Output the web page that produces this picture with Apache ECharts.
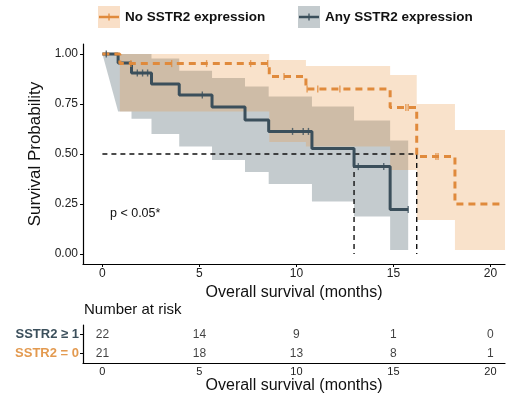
<!DOCTYPE html>
<html>
<head>
<meta charset="utf-8">
<script src="https://cdn.jsdelivr.net/npm/echarts@6/dist/echarts.min.js"></script>
<style>html,body{margin:0;padding:0;background:#fff}#c{width:508px;height:398px}</style>
</head>
<body>
<div id="c"></div>
<script>
// ---------- data ----------
const xTicks = [0, 5, 10, 15, 20];
const yTicks = [0, 0.25, 0.5, 0.75, 1.0];

// Any SSTR2 expression (SSTR2 >= 1)
const anyTimes = [0, 0.81, 1.5, 2.53, 3.96, 5.65, 7.35, 8.57, 10.8, 12.97, 14.83, 15.76];
const anySurv  = [1, 0.955, 0.905, 0.85, 0.795, 0.735, 0.67, 0.613, 0.527, 0.437, 0.222, 0.222];
const anyCensT = [0.2, 1.8, 2.07, 2.33, 5.15, 9.8, 10.35, 10.62, 13.19, 14.5, 15.76];
const anyCensS = [1, 0.905, 0.905, 0.905, 0.795, 0.613, 0.613, 0.613, 0.437, 0.437, 0.222];
const anyBandT = [0, 0.81, 1.5, 2.53, 3.96, 5.65, 7.35, 8.57, 10.8, 12.97, 14.83, 15.76];
const anyBandU = [1, 1, 1, 0.977, 0.916, 0.88, 0.838, 0.788, 0.738, 0.667, 0.567];
const anyBandL = [1, 0.713, 0.676, 0.60, 0.538, 0.47, 0.41, 0.35, 0.263, 0.188, 0.02];

// No SSTR2 expression (SSTR2 = 0)
const noTimes = [0, 0.9, 8.6, 10.49, 14.83, 16.2, 18.17, 20.7];
const noSurv  = [1, 0.952, 0.888, 0.825, 0.733, 0.488, 0.25, 0.25];
const noCensT = [1.47, 3.57, 5.37, 7.64, 8.52, 9.36, 10.55, 11.1, 12.24, 15.64, 15.76, 17.19, 17.3];
const noCensS = [0.952, 0.952, 0.952, 0.952, 0.952, 0.888, 0.825, 0.825, 0.825, 0.733, 0.733, 0.488, 0.488];
const noBandT = [0.9, 8.6, 10.49, 14.83, 16.2, 18.17, 20.75];
const noBandU = [1, 0.97, 0.94, 0.895, 0.75, 0.62];
const noBandL = [0.713, 0.56, 0.538, 0.42, 0.17, 0.02];

// median survival
const medianTimes = [12.97, 16.2];

// number at risk
const riskRows = ['SSTR2 ≥ 1', 'SSTR2 = 0'];
const riskAny = [22, 14, 9, 1, 0];
const riskNo  = [21, 18, 13, 8, 1];

// ---------- styling ----------
const FONT = 'Liberation Sans, Arial, Helvetica, sans-serif';
const C_ANY = '#3b4f5b';
const C_NO = '#e08a3c';
const BAND_ANY = 'rgba(60,82,94,0.30)';
const BAND_NO = 'rgba(234,150,70,0.28)';
const XMIN = -1, XMAX = 20.75;

// stepped ribbon; with ramp the lower edge of the first interval is joined linearly
function bandRenderer(times, upper, lower, ramp) {
  return function (params, api) {
    const pts = [];
    for (let i = 0; i < upper.length; i++) {
      pts.push(api.coord([times[i], upper[i]]));
      pts.push(api.coord([times[i + 1], upper[i]]));
    }
    for (let i = lower.length - 1; i >= 0; i--) {
      if (ramp && i === 0) {
        pts.push(api.coord([times[0], lower[0]]));
      } else {
        pts.push(api.coord([times[i + 1], lower[i]]));
        pts.push(api.coord([times[i], lower[i]]));
      }
    }
    return { type: 'polygon', shape: { points: pts }, style: { fill: api.visual('color') } };
  };
}

const zip = (a, b) => a.map((v, i) => [v, b[i]]);

const riskData = [];
xTicks.forEach((t, i) => {
  riskData.push([t, 0, riskAny[i]]);
  riskData.push([t, 1, riskNo[i]]);
});

const axisLineStyle = { color: '#000', width: 1.2 };
const chart = echarts.init(document.getElementById('c'), null, { renderer: 'canvas' });
chart.setOption({
  animation: false,
  backgroundColor: '#fff',
  textStyle: { fontFamily: FONT },
  title: {
    text: 'Number at risk', left: 84, top: 302, padding: 0,
    textStyle: { fontSize: 15, fontWeight: 'normal', color: '#111', fontFamily: FONT }
  },
  legend: [
    {
      left: 98, top: 6, padding: 0, itemWidth: 22, itemHeight: 22, itemGap: 5, selectedMode: false,
      data: [{ name: 'No SSTR2 expression', icon: 'rect', itemStyle: { color: 'rgba(234,150,70,0.30)' } }],
      textStyle: { fontSize: 13.5, fontWeight: 'bold', color: '#111', fontFamily: FONT }
    },
    {
      left: 298, top: 6, padding: 0, itemWidth: 22, itemHeight: 22, itemGap: 5, selectedMode: false,
      data: [{ name: 'Any SSTR2 expression', icon: 'rect', itemStyle: { color: 'rgba(60,82,94,0.30)' } }],
      textStyle: { fontSize: 13.5, fontWeight: 'bold', color: '#111', fontFamily: FONT }
    }
  ],
  graphic: [
    { type: 'line', shape: { x1: 99, y1: 17, x2: 119, y2: 17 }, style: { stroke: C_NO, lineWidth: 2.5 }, silent: true, z: 100 },
    { type: 'line', shape: { x1: 109, y1: 13.5, x2: 109, y2: 20.5 }, style: { stroke: C_NO, lineWidth: 1.3 }, silent: true, z: 100 },
    { type: 'line', shape: { x1: 299, y1: 17, x2: 319, y2: 17 }, style: { stroke: C_ANY, lineWidth: 2.5 }, silent: true, z: 100 },
    { type: 'line', shape: { x1: 309, y1: 13.5, x2: 309, y2: 20.5 }, style: { stroke: C_ANY, lineWidth: 1.3 }, silent: true, z: 100 },
    { type: 'text', left: 110, top: 207, style: { text: 'p < 0.05*', fontSize: 12.5, fill: '#111', fontFamily: FONT }, silent: true }
  ],
  grid: [
    { left: 83, right: 3, top: 44, height: 220, containLabel: false },
    { left: 83, right: 3, top: 325, height: 38, containLabel: false }
  ],
  xAxis: [
    {
      gridIndex: 0, type: 'value', min: XMIN, max: XMAX,
      axisLine: { show: true, onZero: false, lineStyle: axisLineStyle },
      axisTick: { show: true, customValues: xTicks, length: 3, lineStyle: { color: '#000' } },
      axisLabel: { customValues: xTicks, fontSize: 12, color: '#222', margin: 4, fontFamily: FONT },
      splitLine: { show: false },
      name: 'Overall survival (months)', nameLocation: 'middle', nameGap: 14,
      nameTextStyle: { fontSize: 16, color: '#111', fontFamily: FONT }
    },
    {
      gridIndex: 1, type: 'value', min: XMIN, max: XMAX,
      axisLine: { show: true, onZero: false, lineStyle: axisLineStyle },
      axisTick: { show: false },
      axisLabel: { customValues: xTicks, fontSize: 11, color: '#222', margin: 3, fontFamily: FONT },
      splitLine: { show: false },
      name: 'Overall survival (months)', nameLocation: 'middle', nameGap: 15,
      nameTextStyle: { fontSize: 16, color: '#111', fontFamily: FONT }
    }
  ],
  yAxis: [
    {
      gridIndex: 0, type: 'value', min: -0.05, max: 1.05,
      axisLine: { show: true, onZero: false, lineStyle: axisLineStyle },
      axisTick: { show: true, customValues: yTicks, length: 3, lineStyle: { color: '#000' } },
      axisLabel: { customValues: yTicks, formatter: v => v.toFixed(2), fontSize: 12, color: '#222', margin: 5, fontFamily: FONT },
      splitLine: { show: false },
      name: 'Survival Probability', nameLocation: 'middle', nameGap: 38,
      nameTextStyle: { fontSize: 17, color: '#111', fontFamily: FONT }
    },
    {
      gridIndex: 1, type: 'category', data: riskRows, inverse: true,
      axisLine: { show: true, onZero: false, lineStyle: axisLineStyle },
      axisTick: { show: true, alignWithLabel: true, length: 3, lineStyle: { color: '#000' } },
      axisLabel: {
        margin: 4, fontFamily: FONT,
        formatter: (v, i) => i === 0 ? '{a|' + v + '}' : '{b|' + v + '}',
        rich: {
          a: { color: C_ANY, fontWeight: 'bold', fontSize: 13, fontFamily: FONT },
          b: { color: '#e39a50', fontWeight: 'bold', fontSize: 13, fontFamily: FONT }
        }
      },
      splitLine: { show: false }
    }
  ],
  series: [
    {
      type: 'custom', name: 'anyBand', xAxisIndex: 0, yAxisIndex: 0, silent: true, z: 1,
      itemStyle: { color: BAND_ANY }, data: [[anyBandT[0], anyBandU[0]]],
      renderItem: bandRenderer(anyBandT, anyBandU, anyBandL, true)
    },
    {
      type: 'custom', name: 'noBand', xAxisIndex: 0, yAxisIndex: 0, silent: true, z: 1,
      itemStyle: { color: BAND_NO }, data: [[noBandT[0], noBandU[0]]],
      renderItem: bandRenderer(noBandT, noBandU, noBandL, false)
    },
    {
      type: 'line', name: 'medianH', xAxisIndex: 0, yAxisIndex: 0, silent: true, z: 3,
      showSymbol: false, symbol: 'none',
      data: [[0, 0.5], [Math.max(...medianTimes), 0.5]],
      lineStyle: { color: '#111', width: 1.4, type: [5, 4] }
    },
    ...medianTimes.map((t, k) => ({
      type: 'line', name: 'medianV' + k, xAxisIndex: 0, yAxisIndex: 0, silent: true, z: 3,
      showSymbol: false, symbol: 'none',
      data: [[t, 0.5], [t, 0]],
      lineStyle: { color: '#111', width: 1.4, type: [5, 4] }
    })),
    {
      type: 'line', name: 'Any SSTR2 expression', xAxisIndex: 0, yAxisIndex: 0, step: 'end',
      showSymbol: false, symbol: 'none', z: 4, silent: true,
      itemStyle: { color: C_ANY },
      lineStyle: { color: C_ANY, width: 3 },
      data: zip(anyTimes, anySurv)
    },
    {
      type: 'line', name: 'No SSTR2 expression', xAxisIndex: 0, yAxisIndex: 0, step: 'end',
      showSymbol: false, symbol: 'none', z: 5, silent: true,
      itemStyle: { color: C_NO },
      lineStyle: { color: C_NO, width: 3, type: [7, 5] },
      data: zip(noTimes, noSurv)
    },
    {
      type: 'scatter', name: 'anyCens', xAxisIndex: 0, yAxisIndex: 0, z: 6, silent: true,
      symbol: 'rect', symbolSize: [1.4, 7], itemStyle: { color: C_ANY },
      data: zip(anyCensT, anyCensS)
    },
    {
      type: 'scatter', name: 'noCens', xAxisIndex: 0, yAxisIndex: 0, z: 6, silent: true,
      symbol: 'rect', symbolSize: [1.4, 7], itemStyle: { color: C_NO },
      data: zip(noCensT, noCensS)
    },
    {
      type: 'scatter', name: 'risk', xAxisIndex: 1, yAxisIndex: 1, silent: true,
      symbolSize: 1, itemStyle: { color: 'rgba(0,0,0,0)' },
      label: {
        show: true, position: 'inside', formatter: p => String(p.value[2]),
        fontSize: 12, color: '#111', fontFamily: FONT
      },
      data: riskData
    }
  ]
});
</script>
</body>
</html>
